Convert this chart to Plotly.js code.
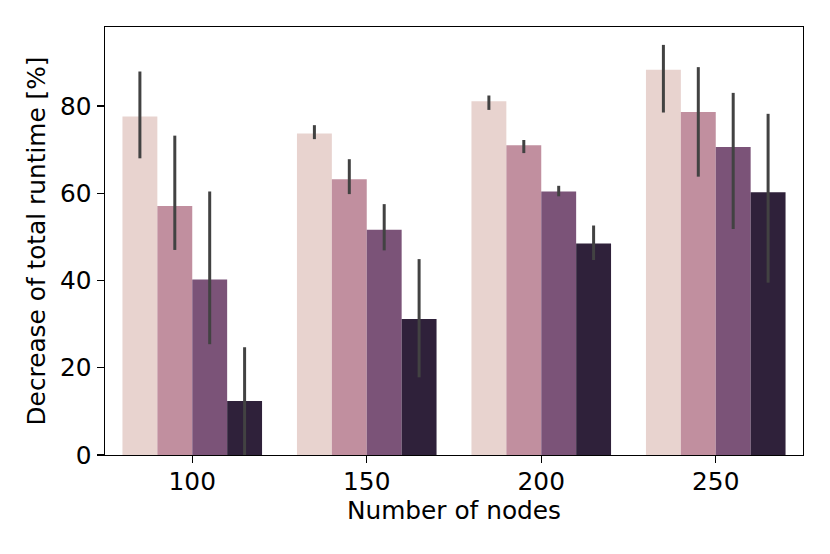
<!DOCTYPE html>
<html>
<head>
<meta charset="utf-8">
<script src="https://cdn.plot.ly/plotly-3.0.1.min.js"></script>
<style>html,body{margin:0;padding:0;background:#fff;}#chart{width:830px;height:554px;}</style>
</head>
<body>
<div id="chart"></div>
<script>
const categories = ['100', '150', '200', '250'];
const seriesNames = ['s1', 's2', 's3', 's4'];
const means = [
  [77.6, 73.7, 81.1, 88.3],
  [57.1, 63.2, 71.0, 78.6],
  [40.2, 51.6, 60.4, 70.6],
  [12.4, 31.2, 48.5, 60.2]
];
const ciHigh = [
  [87.9, 75.6, 82.4, 94.0],
  [73.2, 67.8, 72.2, 88.9],
  [60.4, 57.5, 61.7, 83.0],
  [24.7, 44.9, 52.6, 78.2]
];
const ciLow = [
  [68.0, 72.4, 79.1, 78.5],
  [47.0, 59.8, 69.2, 63.8],
  [25.4, 46.9, 59.3, 51.8],
  [-1.0, 17.8, 44.7, 39.5]
];
const colors = ['#e8d3cf', '#c18f9f', '#7b5378', '#2f213a'];

const FONT = 'DejaVu Sans, sans-serif';
const FS = 24.8;
const traces = seriesNames.map((name, i) => ({
  type: 'bar',
  name: name,
  x: categories,
  y: means[i],
  marker: {color: colors[i], line: {width: 0}},
  error_y: {
    type: 'data',
    symmetric: false,
    array: ciHigh[i].map((h, j) => h - means[i][j]),
    arrayminus: means[i].map((m, j) => m - ciLow[i][j]),
    color: '#424242',
    thickness: 3,
    width: 0
  },
  hoverinfo: 'none'
}));

const layout = {
  width: 830,
  height: 554,
  margin: {l: 105, r: 27, t: 27, b: 99},
  paper_bgcolor: '#ffffff',
  plot_bgcolor: '#ffffff',
  showlegend: false,
  barmode: 'group',
  bargap: 0.2,
  bargroupgap: 0,
  font: {family: FONT, size: FS, color: '#000000'},
  xaxis: {
    type: 'category',
    range: [-0.5, 3.5],
    showline: true, mirror: true, linecolor: '#000000', linewidth: 1.4,
    ticks: 'outside', ticklen: 7, tickwidth: 1.4, tickcolor: '#000000',
    ticklabelstandoff: -3,
    showgrid: false, zeroline: false,
    tickfont: {family: FONT, size: FS, color: '#000000'},
    title: {text: 'Number of nodes', font: {family: FONT, size: FS, color: '#000000'}, standoff: 5}
  },
  yaxis: {
    range: [0, 98.1],
    tickvals: [0, 20, 40, 60, 80],
    showline: true, mirror: true, linecolor: '#000000', linewidth: 1.4,
    ticks: 'outside', ticklen: 7, tickwidth: 1.4, tickcolor: '#000000',
    showgrid: false, zeroline: false,
    tickfont: {family: FONT, size: FS, color: '#000000'},
    title: {text: 'Decrease of total runtime [%]', font: {family: FONT, size: FS, color: '#000000'}, standoff: 7}
  }
};

Plotly.newPlot('chart', traces, layout, {displayModeBar: false, staticPlot: true});
</script>
</body>
</html>
